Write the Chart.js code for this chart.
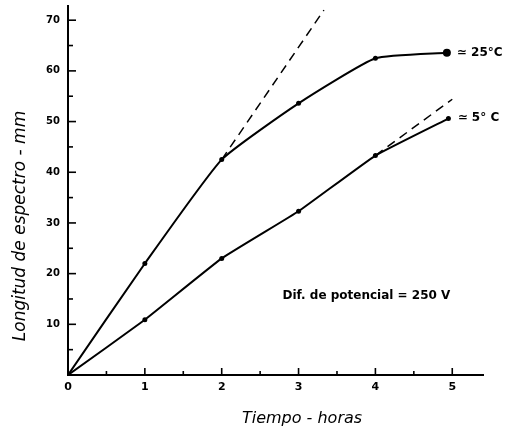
<!DOCTYPE html>
<html>
<head>
<meta charset="utf-8">
<script src="https://cdn.jsdelivr.net/npm/chart.js@4/dist/chart.umd.min.js"></script>
<style>
html,body{margin:0;padding:0;background:#fff;}
#wrap{width:518px;height:429px;}
</style>
</head>
<body>
<div id="wrap"><canvas id="c" width="518" height="429"></canvas></div>
<script>
// Data
const hours25 = [0, 1, 2, 3, 4, 4.93];
const length25 = [0, 22, 42.5, 53.6, 62.5, 63.6];
const hours5 = [0, 1, 2, 3, 4, 4.95];
const length5 = [0, 10.9, 23, 32.3, 43.3, 50.6];
const ext25Hours = [2, 3.33];
const ext25Length = [42.5, 72];
const ext5Hours = [4, 5];
const ext5Length = [43.3, 54.4];
const xTickLabels = ['0', '1', '2', '3', '4', '5'];
const yTickLabels = ['10', '20', '30', '40', '50', '60', '70'];
const xTitle = 'Tiempo - horas';
const yTitle = 'Longitud de espectro - mm';
const notes = [
  {text: '\u2243 25°C', x: 5.06, y: 63.6},
  {text: '\u2243 5° C', x: 5.07, y: 50.7},
  {text: 'Dif. de potencial = 250 V', x: 2.79, y: 15.6}
];

const pts = (xs, ys) => xs.map((x, i) => ({x, y: ys[i]}));

const annot = {
  id: 'annot',
  afterDraw(chart) {
    const {ctx, scales: {x, y}} = chart;
    ctx.save();
    ctx.strokeStyle = '#000';
    ctx.lineWidth = 1.6;
    // inward ticks
    x.ticks.forEach(t => {
      const px = x.getPixelForValue(t.value);
      const major = Number.isInteger(t.value);
      ctx.beginPath();
      ctx.moveTo(px, y.bottom);
      ctx.lineTo(px, y.bottom - (major ? 7 : 4));
      ctx.stroke();
    });
    y.ticks.forEach(t => {
      const py = y.getPixelForValue(t.value);
      const major = t.value % 10 === 0;
      ctx.beginPath();
      ctx.moveTo(x.left, py);
      ctx.lineTo(x.left + (major ? 8 : 5), py);
      ctx.stroke();
    });
    ctx.fillStyle = '#000';
    ctx.textBaseline = 'middle';
    ctx.textAlign = 'left';
    ctx.font = 'bold 12px "DejaVu Sans"';
    notes.forEach(n => {
      ctx.fillText(n.text, x.getPixelForValue(n.x), y.getPixelForValue(n.y));
    });
    // axis titles
    ctx.font = 'italic 16px "DejaVu Sans"';
    ctx.textAlign = 'center';
    ctx.fillText(xTitle, 302, 419);
    ctx.translate(21, 226);
    ctx.rotate(-Math.PI / 2);
    ctx.font = 'italic 17px "DejaVu Sans"';
    ctx.fillText(yTitle, 0, 0);
    ctx.restore();
  }
};

const lineBase = {
  borderColor: '#000',
  backgroundColor: '#000',
  pointBackgroundColor: '#000',
  pointBorderWidth: 0,
  fill: false,
  showLine: true
};

new Chart(document.getElementById('c'), {
  type: 'scatter',
  data: {
    datasets: [
      Object.assign({}, lineBase, {label: '25°C', data: pts(hours25, length25), borderWidth: 2, pointRadius: [2.5,2.5,2.5,2.5,2.5,4], tension: 0.15}),
      Object.assign({}, lineBase, {label: '5°C', data: pts(hours5, length5), borderWidth: 2, pointRadius: 2.5, tension: 0.1}),
      Object.assign({}, lineBase, {label: 'ext25', data: pts(ext25Hours, ext25Length), borderWidth: 1.5, borderDash: [9, 6], pointRadius: 0}),
      Object.assign({}, lineBase, {label: 'ext5', data: pts(ext5Hours, ext5Length), borderWidth: 1.5, borderDash: [9, 6], pointRadius: 0})
    ]
  },
  options: {
    responsive: false,
    animation: false,
    layout: {padding: {top: 6, right: 35, left: 0, bottom: 0}},
    plugins: {legend: {display: false}, tooltip: {enabled: false}},
    scales: {
      x: {
        type: 'linear', min: 0, max: 5.4,
        border: {color: '#000', width: 2},
        grid: {drawOnChartArea: false, drawTicks: false},
        afterFit: s => { s.height = 54; s.paddingLeft = 0; s.paddingRight = 0; },
        ticks: {
          stepSize: 0.5, includeBounds: false, padding: 6, color: '#000', maxRotation: 0, autoSkip: false,
          font: {family: 'DejaVu Sans', weight: 'bold', size: 11},
          callback: v => Number.isInteger(v) ? xTickLabels[v] : ''
        }
      },
      y: {
        type: 'linear', min: 0, max: 72.8,
        border: {color: '#000', width: 2},
        grid: {drawOnChartArea: false, drawTicks: false},
        afterFit: s => { s.width = 68; s.paddingTop = 0; s.paddingBottom = 0; },
        ticks: {
          stepSize: 5, includeBounds: false, padding: 8, color: '#000', autoSkip: false,
          font: {family: 'DejaVu Sans', weight: 'bold', size: 10},
          callback: v => (v % 10 === 0 && v > 0) ? yTickLabels[v / 10 - 1] : ''
        }
      }
    }
  },
  plugins: [annot]
});
</script>
</body>
</html>
